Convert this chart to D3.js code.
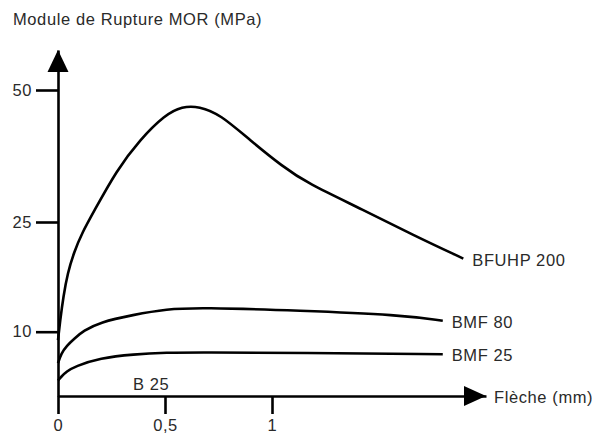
<!DOCTYPE html>
<html lang="fr">
<head>
<meta charset="UTF-8">
<title>Module de Rupture MOR</title>
<script src="https://cdn.jsdelivr.net/npm/d3@7"></script>
<style>
    body { margin: 0; background: #fff; }
    svg text { font-family: "Liberation Sans", Arial, sans-serif; font-size: 16.5px; letter-spacing: 0.6px; fill: #2a2a2a; }
</style>
</head>
<body>
<svg id="chart" width="592" height="434"></svg>
<script>
    // valeurs : flèche (mm) et MOR (MPa)
    const flecheBFUHP = [0, 0.010, 0.025, 0.045, 0.075, 0.114, 0.165, 0.274, 0.383, 0.5, 0.58, 0.66, 0.757, 0.897, 1.05, 1.162, 1.427, 1.660, 1.894];
    const morBFUHP = [8.7, 11.5, 14.8, 18.0, 20.9, 23.6, 26.8, 34.8, 40.6, 45.3, 46.9, 46.9, 45.4, 40.5, 35.5, 32.4, 27.3, 23.2, 20.0];

    const flecheBMF80 = [0, 0.015, 0.040, 0.079, 0.118, 0.196, 0.350, 0.508, 0.663, 1.131, 1.598, 1.798];
    const morBMF80 = [5.1, 6.6, 7.8, 9.0, 10.1, 11.3, 12.3, 13.1, 13.3, 12.9, 12.3, 11.5];

    const flecheBMF25 = [0, 0.015, 0.040, 0.079, 0.196, 0.352, 0.508, 0.664, 1.131, 1.798];
    const morBMF25 = [2.4, 3.0, 3.8, 4.6, 5.9, 6.5, 6.75, 6.8, 6.7, 6.5];

    const seriesNames = ["BFUHP 200", "BMF 80", "BMF 25"];
    const xTicks = [0, 0.5, 1];
    const yTicks = [10, 25, 50];

    const series = [
        { name: seriesNames[0], x: flecheBFUHP, y: morBFUHP },
        { name: seriesNames[1], x: flecheBMF80, y: morBMF80 },
        { name: seriesNames[2], x: flecheBMF25, y: morBMF25 }
    ];

    const svg = d3.select("#chart");

    // x : linéaire ; y : échelle non uniforme comme sur la figure
    const x = d3.scaleLinear().domain([0, 2]).range([58, 486]);
    const y = d3.scaleLinear().domain([0, 10, 25, 50, 57.6]).range([396, 331.7, 222, 90, 50]);

    const fr = d3.formatLocale({ decimal: ",", thousands: " ", grouping: [3], currency: ["", " €"] });

    // axe X
    const xAxis = svg.append("g")
        .attr("transform", "translate(0," + y(0) + ")")
        .call(d3.axisBottom(x).tickValues(xTicks).tickSize(18).tickSizeOuter(0).tickPadding(5)
            .tickFormat(d => d === 0 ? "0" : fr.format("~g")(d)));

    // axe Y
    const yAxis = svg.append("g")
        .attr("transform", "translate(" + x(0) + ",0)")
        .call(d3.axisLeft(y).tickValues(yTicks).tickSize(22).tickSizeOuter(0).tickPadding(4));

    [xAxis, yAxis].forEach(g => {
        g.select(".domain").attr("stroke", "#000").attr("stroke-width", 2.6);
        g.selectAll(".tick line").attr("stroke", "#000").attr("stroke-width", 2.6);
        g.selectAll(".tick text").attr("fill", "#2a2a2a").style("font-size", "16.5px")
            .attr("font-family", null);
    });
    xAxis.selectAll(".tick text").attr("dy", "0.72em");

    // flèches
    const xEnd = x.range()[1], yTop = y.range()[y.range().length - 1];
    svg.append("path")
        .attr("d", `M${xEnd},${y(0)} L${xEnd - 22},${y(0) - 10} L${xEnd - 22},${y(0) + 10} Z`)
        .attr("fill", "#000");
    svg.append("path")
        .attr("d", `M${x(0)},${yTop} L${x(0) - 10.5},${yTop + 22} L${x(0) + 10.5},${yTop + 22} Z`)
        .attr("fill", "#000");

    // courbes
    const line = d3.line()
        .x(d => x(d[0]))
        .y(d => y(d[1]))
        .curve(d3.curveBasis);

    series.forEach(s => {
        const pts = s.x.map((v, i) => [v, s.y[i]]);
        svg.append("path")
            .datum(pts)
            .attr("d", line)
            .attr("fill", "none")
            .attr("stroke", "#000")
            .attr("stroke-width", 2.6);

        const last = pts[pts.length - 1];
        svg.append("text")
            .attr("x", x(last[0]) + 9)
            .attr("y", y(last[1]) + 1)
            .attr("dy", "0.36em")
            .text(s.name);
    });

    // textes
    svg.append("text")
        .attr("x", 13)
        .attr("y", 25)
        .text("Module de Rupture MOR (MPa)");

    svg.append("text")
        .attr("x", xEnd + 8)
        .attr("y", y(0) + 1)
        .attr("dy", "0.36em")
        .text("Flèche (mm)");

    svg.append("text")
        .attr("x", 133)
        .attr("y", 390)
        .text("B 25");
</script>
</body>
</html>
